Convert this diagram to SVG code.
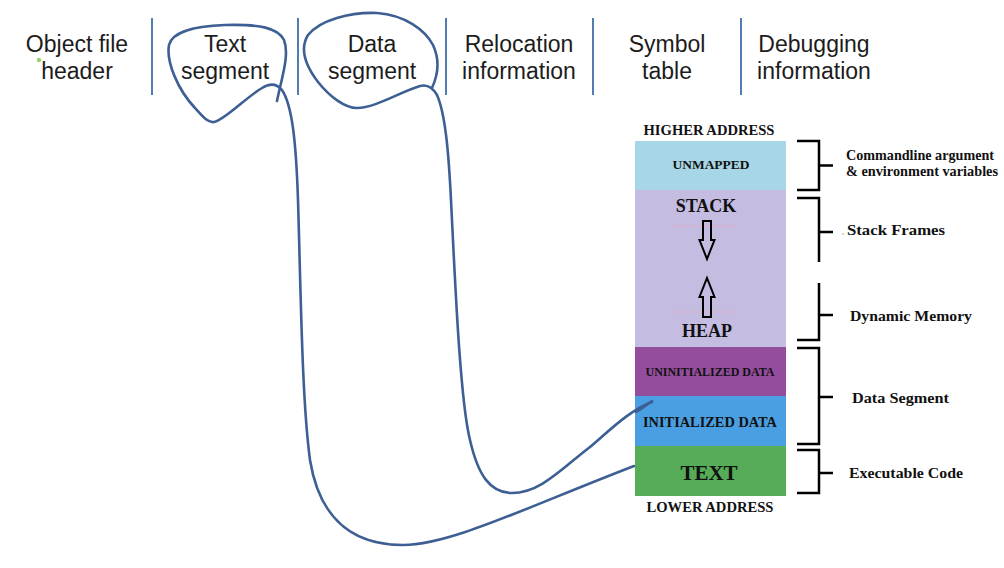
<svg xmlns="http://www.w3.org/2000/svg" width="1004" height="568" viewBox="0 0 1004 568">
<style>
.hdr{font-family:"Liberation Sans",Arial,sans-serif;font-size:23px;fill:#1c1c1c;text-anchor:middle}
.sep{stroke:#4f7db4;stroke-width:2}
.tb{font-family:"Liberation Serif","Times New Roman",serif;font-weight:bold;fill:#111;text-anchor:middle}
.lbl{font-family:"Liberation Serif","Times New Roman",serif;font-weight:bold;fill:#111;font-size:15px}
.br{fill:none;stroke:#000;stroke-width:2.5}
.arr{fill:none;stroke:#000;stroke-width:2;stroke-linejoin:miter}
.cv{fill:none;stroke:#3d5f93;stroke-width:2.6;stroke-linecap:round;stroke-linejoin:round}
.faint{stroke:#e6a9c6;stroke-width:1;opacity:0.7}
</style>

<g id="header-separators">
<line class="sep" x1="152" y1="18" x2="152" y2="95"/>
<line class="sep" x1="298" y1="18" x2="298" y2="95"/>
<line class="sep" x1="446" y1="18" x2="446" y2="95"/>
<line class="sep" x1="593" y1="18" x2="593" y2="95"/>
<line class="sep" x1="741" y1="18" x2="741" y2="95"/>
</g>

<g id="hdr-object"><text class="hdr" x="77" y="52">Object file</text><text class="hdr" x="77" y="79">header</text><circle cx="39" cy="60" r="2.2" fill="#9fcf6a"/></g>
<g id="hdr-text"><text class="hdr" x="225" y="52">Text</text><text class="hdr" x="225" y="79">segment</text></g>
<g id="hdr-data"><text class="hdr" x="372" y="52">Data</text><text class="hdr" x="372" y="79">segment</text></g>
<g id="hdr-reloc"><text class="hdr" x="519" y="52">Relocation</text><text class="hdr" x="519" y="79">information</text></g>
<g id="hdr-symbol"><text class="hdr" x="667" y="52">Symbol</text><text class="hdr" x="667" y="79">table</text></g>
<g id="hdr-debug"><text class="hdr" x="814" y="52">Debugging</text><text class="hdr" x="814" y="79">information</text></g>

<g id="higher-address"><text class="tb" x="709" y="135" font-size="14" textLength="131" lengthAdjust="spacingAndGlyphs">HIGHER ADDRESS</text></g>

<g id="unmapped"><rect x="635" y="141" width="151" height="49" fill="#a7d6e6"/><text class="tb" x="711" y="169" font-size="13.3" textLength="77" lengthAdjust="spacingAndGlyphs">UNMAPPED</text></g>

<g id="stack-heap">
<rect x="635" y="190" width="151" height="157" fill="#c5bde1"/>
<line class="faint" x1="672" y1="226" x2="738" y2="226"/>
<line class="faint" x1="668" y1="312" x2="740" y2="312"/>
<text class="tb" x="706" y="212" font-size="18">STACK</text>
<path class="arr" d="M703,221 H711 V240 H714.5 L707,259 L699.5,240 H703 Z"/>
<path class="arr" d="M703,317 H711 V297 H714.5 L707,278 L699.5,297 H703 Z"/>
<text class="tb" x="707" y="337" font-size="18">HEAP</text>
</g>

<g id="uninit"><rect x="635" y="347" width="151" height="49" fill="#944c9c"/><text class="tb" x="710" y="376" font-size="12" textLength="129" lengthAdjust="spacingAndGlyphs">UNINITIALIZED DATA</text></g>
<g id="init"><rect x="635" y="396" width="151" height="50" fill="#4a9fe2"/><text class="tb" x="710" y="427" font-size="13.8" textLength="134" lengthAdjust="spacingAndGlyphs">INITIALIZED DATA</text></g>
<g id="text-seg"><rect x="635" y="446" width="151" height="50" fill="#57ad57"/><text class="tb" x="709" y="480" font-size="21">TEXT</text></g>

<g id="lower-address"><text class="tb" x="710" y="512" font-size="14" textLength="127" lengthAdjust="spacingAndGlyphs">LOWER ADDRESS</text></g>

<g id="brace-cmd"><path class="br" d="M797,141 H819 V190 H797 M819,165.5 H833"/><text class="lbl" x="846" y="160" textLength="148" lengthAdjust="spacingAndGlyphs">Commandline argument</text><text class="lbl" x="846" y="176" textLength="152" lengthAdjust="spacingAndGlyphs">&amp; environment variables</text></g>
<g id="brace-stack"><path class="br" d="M797,198 H819 V262 M819,232 H833"/><circle cx="843" cy="234" r="0.7" fill="#888"/><text class="lbl" x="847" y="235" textLength="98" lengthAdjust="spacingAndGlyphs">Stack  Frames</text></g>
<g id="brace-dyn"><path class="br" d="M819,283 V340 H797 M819,315 H833"/><text class="lbl" x="850" y="321" textLength="122" lengthAdjust="spacingAndGlyphs">Dynamic Memory</text></g>
<g id="brace-data"><path class="br" d="M797,348 H819 V444 H797 M819,397 H833"/><text class="lbl" x="852" y="403" textLength="97" lengthAdjust="spacingAndGlyphs">Data Segment</text></g>
<g id="brace-code"><path class="br" d="M797,450 H819 V493 H797 M819,473 H833"/><text class="lbl" x="849" y="478" textLength="114" lengthAdjust="spacingAndGlyphs">Executable Code</text></g>

<g id="connectors">
<path class="cv" d="M277,101 C281,80 290,55 284,40 C278,28 260,24 225,25 C195,26 172,32 169,45 C166,62 178,90 195,108 C203,117 208,123 214,122 C225,120 245,98 262,88 C270,83 277,84 282,90 C292,105 296,140 298,200 C301,300 302,400 310,460 C318,510 345,545 403,545 C450,545 520,510 634,466"/>
<path class="cv" d="M432,88 C438,75 440,60 433,45 C425,30 405,15 377,13 C350,12 320,20 308,35 C300,48 305,65 318,82 C330,97 345,108 357,108 C375,108 400,92 420,86 C428,84 433,88 437,95 C446,115 449,160 451,200 C455,280 460,400 470,440 C478,475 490,493 512,493 C540,493 560,470 590,447 C610,430 630,410 652,402"/>
<path d="M636,412 L652,401 L641,409 Z" fill="#3d5f93" stroke="#3d5f93" stroke-width="2.5" stroke-linejoin="round"/>
</g>
</svg>
